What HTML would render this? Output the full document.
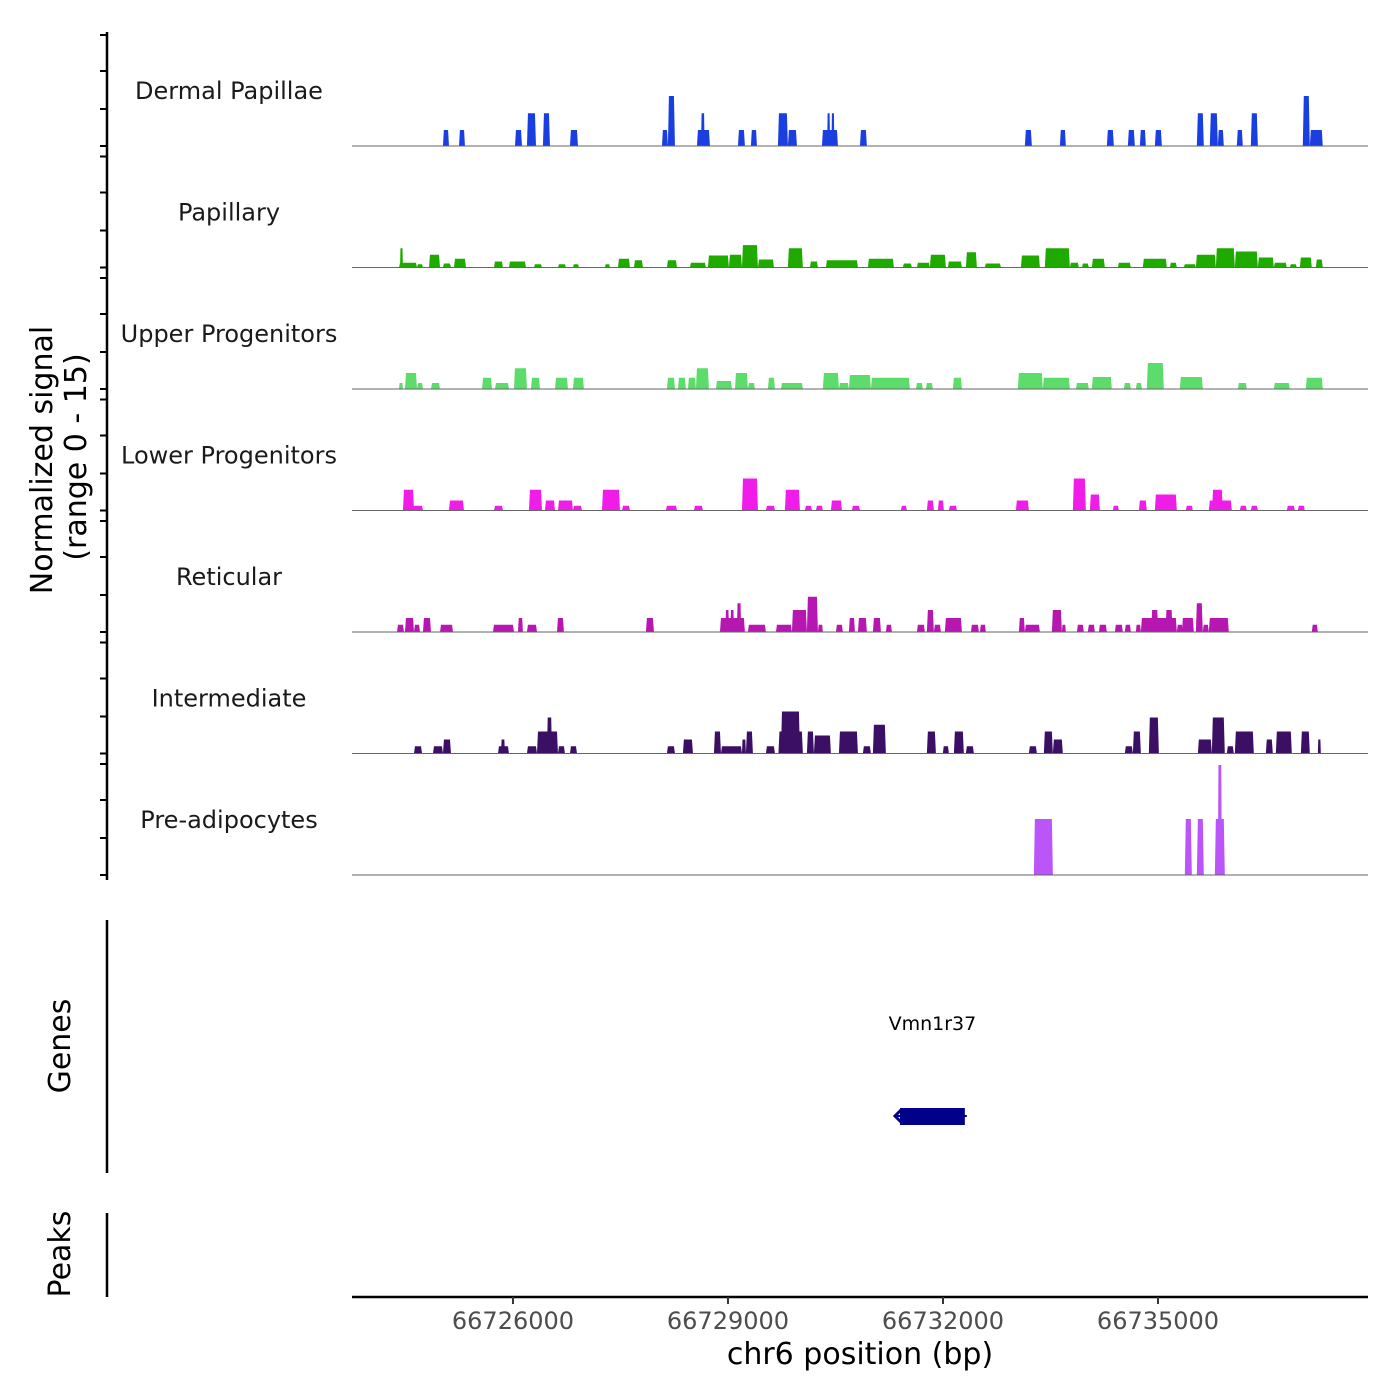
<!DOCTYPE html>
<html><head><meta charset="utf-8">
<style>
html,body{margin:0;padding:0;background:#fff;}
svg{display:block;font-family:"DejaVu Sans","Liberation Sans",sans-serif;}
</style></head>
<body>
<svg id="chart" width="1400" height="1400" viewBox="0 0 1400 1400" xmlns="http://www.w3.org/2000/svg">
  <rect x="0" y="0" width="1400" height="1400" fill="#fff"/>
  <g id="tracks"></g>
  <g id="axes">
    <line x1="107" y1="32" x2="107" y2="880" stroke="#000" stroke-width="2.5"/>
    <line x1="107" y1="920" x2="107" y2="1173" stroke="#000" stroke-width="2.5"/>
    <line x1="107" y1="1213" x2="107" y2="1297" stroke="#000" stroke-width="2.5"/>
    <line x1="352" y1="1297" x2="1368" y2="1297" stroke="#000" stroke-width="2.5"/>
    <text x="0" y="0" transform="translate(52,460) rotate(-90)" text-anchor="middle" font-size="30">Normalized signal</text>
    <text x="0" y="0" transform="translate(86,457) rotate(-90)" text-anchor="middle" font-size="30">(range 0 - 15)</text>
    <text x="0" y="0" transform="translate(70,1046) rotate(-90)" text-anchor="middle" font-size="30">Genes</text>
    <text x="0" y="0" transform="translate(70,1254) rotate(-90)" text-anchor="middle" font-size="30">Peaks</text>
    <text x="860" y="1364" text-anchor="middle" font-size="30">chr6 position (bp)</text>
  </g>
  <g id="gene"></g>
</svg>
<script>
// Genomic window (bp)
const regionStart = 66723754;
const regionEnd = 66737930;
const xTickValues = [66726000, 66729000, 66732000, 66735000];
const xTickLabels = ["66726000", "66729000", "66732000", "66735000"];
const trackNames = ["Dermal Papillae","Papillary","Upper Progenitors","Lower Progenitors","Reticular","Intermediate","Pre-adipocytes"];
const trackColors = ["#1a3fe0","#1faa00","#5cdc6a","#f01de8","#b517b0","#3b0f63","#bb55f7"];
// Segment arrays: offsets (bp) from regionStart, value in normalized signal (0-15)
const dpStart = [1269,1493,2274,2441,2664,3041,4325,4408,4813,4870,5385,5566,5943,6082,6557,6630,6690,7087,9388,9877,10532,10825,10993,11202,11788,11969,12081,12346,12541,13266,13364];
const dpEnd   = [1353,1576,2372,2567,2762,3153,4408,4506,4994,4920,5482,5650,6082,6208,6780,6670,6730,7184,9486,9960,10630,10923,11076,11300,11885,12081,12164,12429,12639,13364,13545];
const dpVal   = [2,2,2,4.1,4.1,2,2,6.25,2,4.1,2,2,4.1,2,2,4.1,4.1,2,2,2,2,2,2,2,4.1,4.1,2,2,4.1,6.25,2];
const papStart = [656,670,907,1074,1269,1423,1981,2190,2539,2874,3083,3529,3711,3934,4394,4715,4966,5259,5441,5664,6082,6389,6612,7198,7686,7882,8063,8314,8565,8830,9333,9667,10016,10184,10323,10686,11034,11411,11606,11774,12053,12318,12639,12862,13085,13225,13448];
const papEnd   = [907,711,990,1228,1381,1590,2106,2427,2651,2985,3167,3599,3878,4059,4534,4938,5259,5441,5664,5887,6291,6501,7059,7561,7812,8063,8286,8510,8719,9054,9598,10016,10142,10281,10504,10867,11369,11509,11774,12053,12318,12639,12862,13043,13183,13392,13545];
const papVal   = [0.6,2.4,0.4,1.6,0.5,1.1,0.75,0.75,0.4,0.4,0.4,0.4,1.1,0.9,0.9,0.6,1.5,1.6,2.8,1.0,2.4,0.75,0.9,1.1,0.5,0.6,1.6,0.75,1.9,0.5,1.5,2.4,0.6,0.5,1.1,0.6,1.1,0.6,0.4,1.6,2.4,2.0,1.25,0.6,0.4,1.25,1.0];
const upStart = [656,739,907,1102,1814,1995,2260,2497,2832,3083,4394,4548,4687,4799,5078,5343,5524,5803,5985,6570,6794,6933,7240,7868,8007,8384,9291,9639,10100,10323,10769,10937,11090,11551,12360,12862,13308];
const upEnd   = [711,907,990,1228,1953,2190,2441,2623,3013,3236,4506,4659,4799,4980,5301,5524,5622,5901,6291,6794,6933,7240,7784,7965,8105,8510,9639,10016,10281,10602,10867,11021,11327,11871,12485,13085,13545];
const upVal   = [0.75,2.0,0.75,0.75,1.4,0.75,2.6,1.4,1.4,1.4,1.4,1.4,1.4,2.6,1.0,2.0,0.75,1.4,0.75,2.0,0.75,1.75,1.4,0.75,0.75,1.4,2.0,1.4,0.75,1.5,0.75,0.75,3.25,1.5,0.75,0.75,1.4];
const lowStart = [711,711,1353,1981,2469,2692,2874,3083,3488,3767,4380,4771,5441,5775,6040,6319,6473,6682,6975,7659,8021,8175,8328,9263,10058,10295,10616,10979,11202,11634,11955,12000,12388,12541,13043,13197];
const lowEnd   = [990,865,1562,2106,2651,2832,3083,3209,3739,3878,4534,4896,5664,5901,6250,6417,6570,6836,7087,7742,8119,8258,8440,9444,10239,10435,10700,11090,11509,11732,12276,12150,12485,12639,13155,13294];
const lowVal   = [0.6,2.6,1.25,0.6,2.6,1.25,1.25,0.6,2.6,0.6,0.6,0.6,4.0,0.6,2.6,0.6,0.6,1.25,0.6,0.6,1.25,1.25,0.6,1.25,4.0,2.0,0.6,1.25,2.0,0.6,1.25,2.6,0.6,0.6,0.6,0.6];
const retStart = [628,739,865,990,1228,1967,2316,2441,2860,4101,5134,5210,5280,5370,5524,5915,6138,6347,6501,6752,6933,7059,7268,7449,7882,8021,8119,8272,8635,8761,9305,9388,9765,9905,10114,10267,10421,10644,10783,10937,11007,11150,11350,11509,11579,11774,11871,11955,13392];
const retEnd   = [725,865,949,1102,1409,2260,2385,2581,2957,4213,5482,5260,5330,5430,5775,6138,6347,6501,6570,6849,7017,7184,7380,7533,7993,8119,8217,8510,8747,8844,9388,9598,9905,9960,10211,10365,10532,10755,10867,11007,11509,11250,11450,11592,11746,11871,11955,12234,13476];
const retVal   = [0.9,1.75,0.9,1.75,0.9,0.9,1.75,0.9,1.75,1.75,1.75,2.75,2.75,3.6,0.9,0.9,2.75,4.4,0.9,0.9,1.75,1.75,1.75,0.9,0.9,2.75,0.9,1.75,0.9,0.9,1.75,0.9,2.75,0.9,0.9,0.9,0.9,0.9,0.9,0.9,1.75,2.75,2.75,0.9,1.75,3.6,0.9,1.75,0.9];
const intStart = [865,1130,1269,2037,2079,2441,2581,2720,2874,3041,4394,4617,5050,5148,5441,5496,5775,5950,5985,6347,6445,6794,7128,7268,8021,8244,8398,8565,9444,9653,9779,10783,10895,11118,11802,11997,12206,12318,12750,12890,13239,13476];
const intEnd   = [977,1269,1381,2190,2134,2581,2874,2790,2971,3139,4506,4757,5148,5441,5496,5594,5901,6291,6250,6445,6682,7059,7240,7449,8147,8328,8537,8677,9556,9779,9918,10895,11007,11258,11997,12178,12304,12583,12848,13113,13364,13518];
const intVal   = [0.9,0.9,1.75,0.9,1.75,0.9,2.75,4.5,0.9,0.9,0.9,1.75,2.75,0.9,1.75,2.75,0.9,2.75,5.25,2.75,2.25,2.75,0.9,3.6,2.75,0.9,2.75,0.9,0.9,2.75,1.75,0.9,2.75,4.5,1.75,4.5,0.9,2.75,1.75,2.75,2.75,1.75];
const preStart = [9514,11620,11788,12039,12081];
const preEnd   = [9779,11718,11885,12178,12137];
const preVal   = [7,7,7,7,13.75];
// Gene annotation
const geneNames = ["Vmn1r37"];
const geneStart = [66731400];
const geneEnd = [66732305];

const allStarts = [dpStart,papStart,upStart,lowStart,retStart,intStart,preStart];
const allEnds = [dpEnd,papEnd,upEnd,lowEnd,retEnd,intEnd,preEnd];
const allVals = [dpVal,papVal,upVal,lowVal,retVal,intVal,preVal];

const NS = "http://www.w3.org/2000/svg";
const plotLeft = 352, plotRight = 1368;
function xScale(bp){ return plotLeft + (bp - regionStart) / (regionEnd - regionStart) * (plotRight - plotLeft); }
function xOff(off){ return xScale(regionStart + off); }
const baseY0 = 146, panelStep = 121.5, pxPerUnit = 8;
function yScale(panel, v){ return baseY0 + panel*panelStep - v*pxPerUnit; }
function mk(tag, attrs){ const e = document.createElementNS(NS, tag); for (const k in attrs) e.setAttribute(k, attrs[k]); return e; }

const tracksG = document.getElementById('tracks');
const axesG = document.getElementById('axes');
for (let p = 0; p < trackNames.length; p++) {
  const g = mk('g', {});
  
  
  tracksG.appendChild(g);
  const lbl = mk('text', {x: 229, y: baseY0 + p*panelStep - 47, 'text-anchor': 'middle', 'font-size': 24, fill: '#1a1a1a'});
  lbl.textContent = trackNames[p];
  
  
  g.appendChild(lbl);
  const s = allStarts[p], e = allEnds[p], v = allVals[p];
  const y0 = yScale(p, 0);
  for (let i = 0; i < s.length; i++) {
    const x0 = xOff(s[i]), x1 = xOff(e[i]);
    const w = x1 - x0;
    const sl = Math.min(w * 0.15, 1);
    const yt = yScale(p, v[i]);
    const poly = mk('polygon', {points: `${x0},${y0} ${x0+sl},${yt} ${x1-sl},${yt} ${x1},${y0}`, fill: trackColors[p]});
    
    
    g.appendChild(poly);
  }
  const bl = mk('line', {x1: plotLeft, x2: plotRight, y1: y0, y2: y0, stroke: '#666', 'stroke-width': 1});
  
  
  g.appendChild(bl);
}
// y ticks on signal axis (per panel)
const tickOffsets = [0, -37, -75, -111];
for (let p = 0; p < trackNames.length; p++) {
  for (const o of tickOffsets) {
    const y = baseY0 + p*panelStep + o;
    const t = mk('line', {x1: 100, x2: 107, y1: y, y2: y, stroke: '#000', 'stroke-width': 2});
    
    
    axesG.appendChild(t);
  }
}
// x ticks
for (let i = 0; i < xTickValues.length; i++) {
  const x = xScale(xTickValues[i]);
  const t = mk('line', {x1: x, x2: x, y1: 1297, y2: 1304, stroke: '#333', 'stroke-width': 2});
  
  
  axesG.appendChild(t);
  const l = mk('text', {x: x, y: 1329, 'text-anchor': 'middle', 'font-size': 24, fill: '#4d4d4d'});
  l.textContent = xTickLabels[i];
  
  
  axesG.appendChild(l);
}
// gene
const geneG = document.getElementById('gene');
for (let i = 0; i < geneNames.length; i++) {
  const x0 = xScale(geneStart[i]), x1 = xScale(geneEnd[i]);
  const body = mk('rect', {x: x0, y: 1108, width: x1 - x0, height: 17, fill: '#00008b'});
  
  
  geneG.appendChild(body);
  const arrow = mk('polyline', {points: `${x0+1},1110 ${x0-5},1116 ${x0+1},1122`, fill: 'none', stroke: '#00008b', 'stroke-width': 3});
  
  
  geneG.appendChild(arrow);
  const ln = mk('line', {x1: x0 - 4, x2: x1 + 2, y1: 1116, y2: 1116, stroke: '#00008b', 'stroke-width': 2});
  
  
  geneG.appendChild(ln);
  const lab = mk('text', {x: (x0 + x1) / 2, y: 1030, 'text-anchor': 'middle', 'font-size': 19, fill: '#000'});
  lab.textContent = geneNames[i];
  
  
  geneG.appendChild(lab);
}
</script>
</body></html>
